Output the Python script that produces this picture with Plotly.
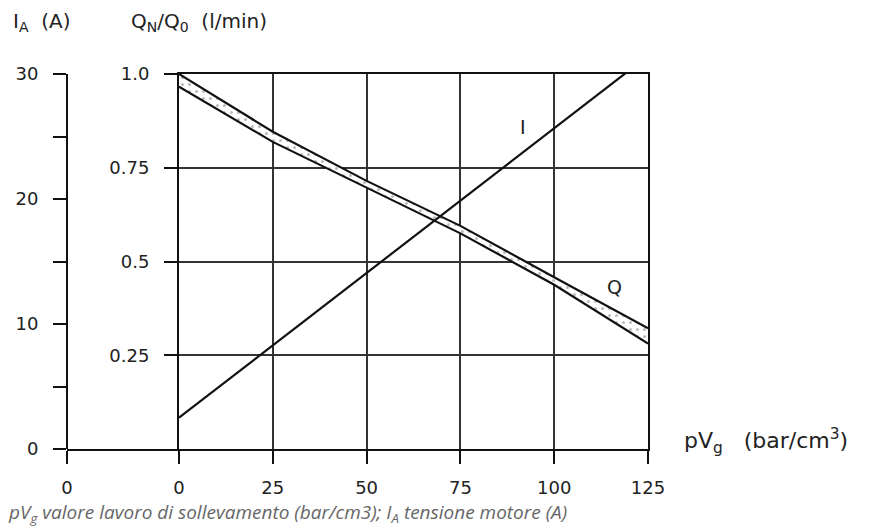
import plotly.graph_objects as go

# ---- data ----
pv = [0, 25, 50, 75, 100, 125]
q_upper = [1.0, 0.846, 0.715, 0.595, 0.458, 0.322]
q_lower = [0.966, 0.819, 0.697, 0.575, 0.438, 0.281]
pv_i = [0, 125]
i_vals = [2.5, 31.45]

x_ticks = [0, 25, 50, 75, 100, 125]
x_ticktext = ["0", "25", "50", "75", "100", "125"]
q_ticks = [0.25, 0.5, 0.75, 1.0]
q_ticktext = ["0.25", "0.5", "0.75", "1.0"]
i_ticks = [0, 5, 10, 15, 20, 25, 30]
i_ticktext = ["0", "", "10", "", "20", "", "30"]

FONT = "DejaVu Sans"
INK = "#111111"
OFF = 8  # page body margin
W, H = 877 - OFF, 526 - OFF
L = 67 - OFF
T = 74 - OFF
R = W - (648 - OFF)
B = H - (449 - OFF)
pw = W - L - R
ph = H - T - B
main_left = (179 - 67) / pw

fig = go.Figure()

fig.add_trace(go.Scatter(x=pv, y=q_lower, mode="lines",
                         line=dict(color=INK, width=2.2), hoverinfo="skip",
                         showlegend=False, xaxis="x", yaxis="y"))
fig.add_trace(go.Scatter(x=pv, y=q_upper, mode="lines",
                         line=dict(color=INK, width=2.2), fill="tonexty",
                         fillcolor="rgba(255,255,255,0)",
                         fillpattern=dict(shape=".", size=7, solidity=0.15,
                                          fgcolor="#777777", bgcolor="white"),
                         hoverinfo="skip", showlegend=False, xaxis="x", yaxis="y"))
fig.add_trace(go.Scatter(x=pv_i, y=i_vals, mode="lines",
                         line=dict(color=INK, width=2.2), hoverinfo="skip",
                         showlegend=False, xaxis="x", yaxis="y2"))
# invisible carrier so the short left x-axis segment is drawn
fig.add_trace(go.Scatter(x=[None], y=[None], mode="lines", hoverinfo="skip",
                         showlegend=False, xaxis="x2", yaxis="y3"))

axfont = dict(family=FONT, size=18, color="#222222")
common = dict(tickmode="array", ticks="outside", ticklen=13, tickwidth=2,
              tickcolor=INK, showline=True, linecolor=INK, linewidth=2,
              zeroline=False, tickfont=axfont)

fig.update_layout(
    width=W, height=H,
    margin=dict(l=L, r=R, t=T, b=B, pad=0, autoexpand=False),
    paper_bgcolor="white", plot_bgcolor="white",
    showlegend=False,
    xaxis=dict(domain=[main_left, 1], range=[0, 125], anchor="y",
               tickvals=x_ticks, ticktext=x_ticktext, mirror=True,
               showgrid=True, gridcolor="#333333", gridwidth=1.5,
               ticklabelstandoff=8, **common),
    xaxis2=dict(domain=[0, main_left], range=[0, 1], anchor="y3",
                tickvals=[0], ticktext=["0"], showgrid=False,
                ticklabelstandoff=8, **common),
    yaxis=dict(domain=[0, 1], range=[0, 1], anchor="x",
               tickvals=q_ticks, ticktext=q_ticktext, mirror=True,
               showgrid=True, gridcolor="#333333", gridwidth=1.5,
               ticklabelstandoff=11, **common),
    yaxis2=dict(range=[0, 30], overlaying="y", anchor="free", position=0,
                side="left", tickvals=i_ticks, ticktext=i_ticktext,
                showgrid=False, ticklabelstandoff=11, **common),
    yaxis3=dict(domain=[0, 1], range=[0, 1], anchor="x2", showgrid=False,
                showline=False, zeroline=False, showticklabels=False,
                ticks=""),
)


def px_x(p):
    return (p - OFF - L) / pw


def px_y(p):
    return ((449 - OFF) - (p - OFF)) / ph


labfont = dict(family=FONT, size=20, color="#222222")
fig.add_annotation(text="I<sub>A</sub>  (A)", xref="paper", yref="paper",
                   x=px_x(11), y=px_y(22), xanchor="left", yanchor="middle",
                   showarrow=False, font=labfont)
fig.add_annotation(text="Q<sub>N</sub>/Q<sub>0</sub>  (l/min)", xref="paper", yref="paper",
                   x=px_x(129), y=px_y(22), xanchor="left", yanchor="middle",
                   showarrow=False, font=labfont)
fig.add_annotation(text="pV<sub>g</sub>   (bar/cm<sup>3</sup>)", xref="paper", yref="paper",
                   x=px_x(682), y=px_y(441), xanchor="left", yanchor="middle",
                   showarrow=False, font=dict(family=FONT, size=22, color="#222222"))
fig.add_annotation(text="Q", xref="x", yref="y", x=116.2, y=0.432,
                   showarrow=False, font=dict(family=FONT, size=19, color="#222222"))
fig.add_annotation(text="I", xref="x", yref="y2", x=91.7, y=25.8,
                   showarrow=False, font=dict(family=FONT, size=19, color="#222222"))
fig.add_annotation(text="<i>pV<sub>g</sub> valore lavoro di sollevamento (bar/cm3); I<sub>A</sub> tensione motore (A)</i>",
                   xref="paper", yref="paper", x=px_x(6), y=px_y(513),
                   xanchor="left", yanchor="middle", showarrow=False,
                   font=dict(family="Open Sans", size=19, color="#666666"))

fig.write_html("out.html")
